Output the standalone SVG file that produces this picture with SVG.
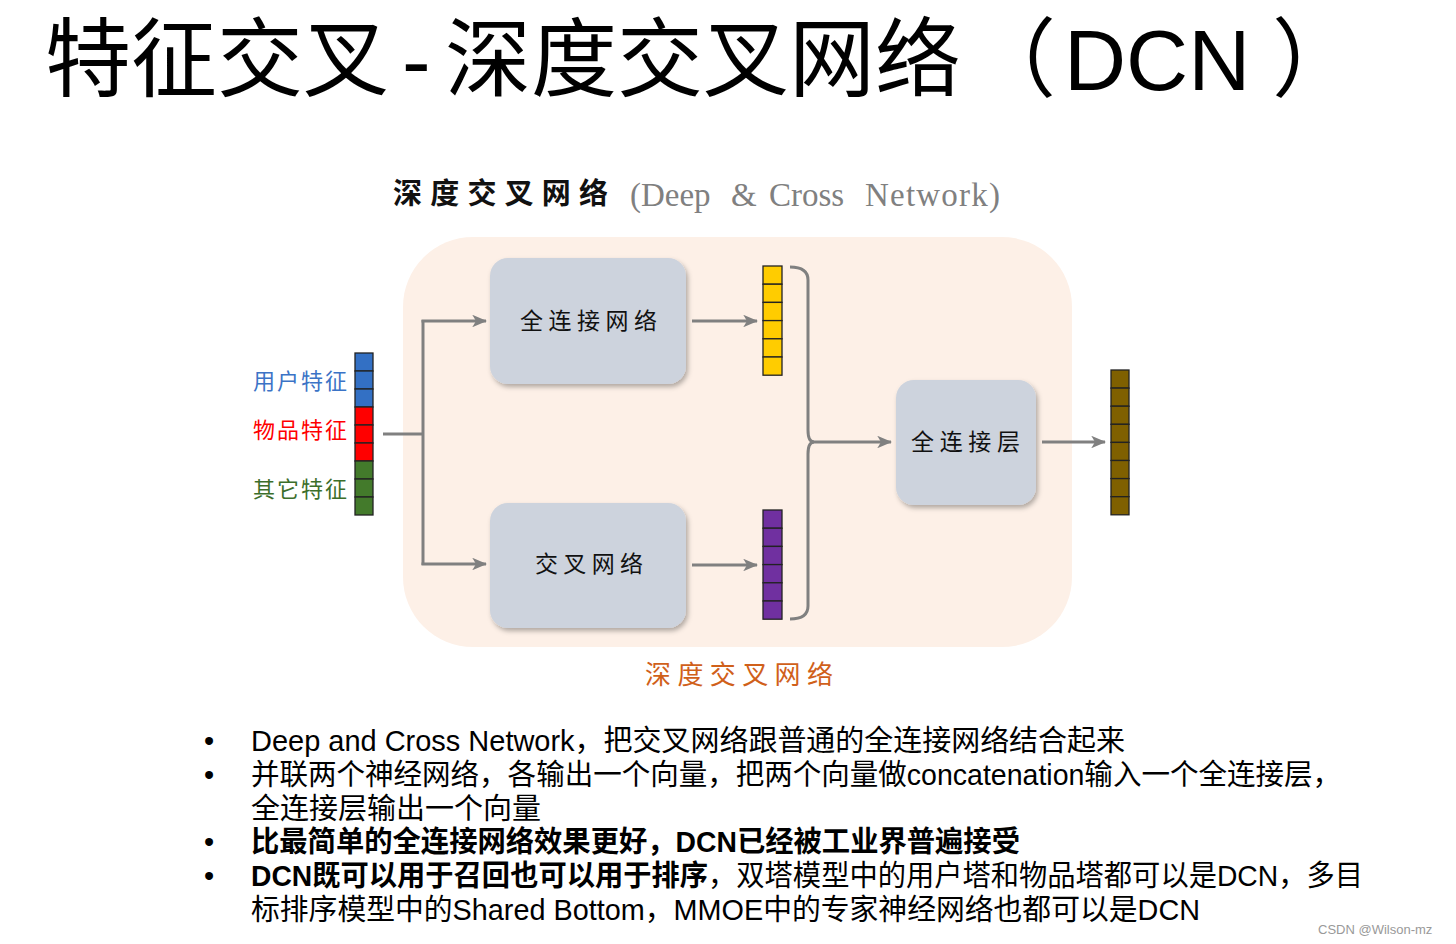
<svg xmlns="http://www.w3.org/2000/svg" width="1456" height="944" viewBox="0 0 1456 944">
<style>
.cjk{font-family:"Noto Sans CJK SC","Noto Sans",sans-serif}
.body{font-family:"Liberation Sans","Noto Sans CJK SC",sans-serif;font-size:29px;fill:#000}
.lbl{font-family:"Noto Sans CJK SC",sans-serif;font-size:23px;fill:#111}
.box{fill:#CDD3DD;filter:url(#sh)}
.ln{fill:none;stroke:#808080;stroke-width:3}
.cell{stroke:#222;stroke-width:1.3}
</style>
<defs>
<filter id="sh" x="-10%" y="-10%" width="125%" height="125%">
<feDropShadow dx="2" dy="3" stdDeviation="2.5" flood-color="#000" flood-opacity="0.3"/>
</filter>
<marker id="ah" viewBox="0 0 12 10" refX="11" refY="5" markerWidth="5" markerHeight="4.2" markerUnits="strokeWidth" orient="auto">
<path d="M0,0 L12,5 L0,10 L3,5 z" fill="#808080"/>
</marker>
</defs>
<rect width="1456" height="944" fill="#fff"/>
<text y="90" font-family="Liberation Sans,Noto Sans CJK SC,sans-serif" font-size="86" fill="#000"><tspan x="45">特征交叉</tspan><tspan x="402">-</tspan><tspan x="445">深度交叉网络</tspan><tspan x="970">（</tspan><tspan x="1064">DCN</tspan><tspan x="1272">）</tspan></text>
<g id="subtitle">
<text x="393" y="204" class="cjk" font-size="29" font-weight="bold" fill="#111" textLength="215" lengthAdjust="spacing">深度交叉网络</text>
<text y="206" font-family="Liberation Serif,serif" font-size="33" fill="#808080"><tspan x="630">(Deep</tspan><tspan x="731">&amp;</tspan><tspan x="769">Cross</tspan><tspan x="865" textLength="135" lengthAdjust="spacing">Network)</tspan></text>
</g>
<g id="panel">
<rect x="403" y="237" width="669" height="410" rx="70" fill="#FDF0E7"/>
</g>
<g id="input">
<text x="253" y="389" class="cjk" font-size="22" fill="#3B73C6" textLength="94" lengthAdjust="spacing">用户特征</text>
<text x="253" y="438" class="cjk" font-size="22" fill="#FF0000" textLength="94" lengthAdjust="spacing">物品特征</text>
<text x="253" y="497" class="cjk" font-size="22" fill="#3C6E2A" textLength="94" lengthAdjust="spacing">其它特征</text>
<g class="cell">
<rect x="355" y="353" width="18" height="18" fill="#3370C4"/>
<rect x="355" y="371" width="18" height="18" fill="#3370C4"/>
<rect x="355" y="389" width="18" height="18" fill="#3370C4"/>
<rect x="355" y="407" width="18" height="18" fill="#FF0000"/>
<rect x="355" y="425" width="18" height="18" fill="#FF0000"/>
<rect x="355" y="443" width="18" height="18" fill="#FF0000"/>
<rect x="355" y="461" width="18" height="18" fill="#437A2B"/>
<rect x="355" y="479" width="18" height="18" fill="#437A2B"/>
<rect x="355" y="497" width="18" height="18" fill="#437A2B"/>
</g>
</g>
<g id="deep">
<rect class="box" x="490" y="258" width="196" height="126" rx="18"/>
<text x="520" y="329" class="lbl" textLength="137" lengthAdjust="spacing">全连接网络</text>
</g>
<g id="cross">
<rect class="box" x="490" y="503" width="196" height="125" rx="18"/>
<text x="535" y="572" class="lbl" textLength="108" lengthAdjust="spacing">交叉网络</text>
</g>
<g id="fc">
<rect class="box" x="896" y="380" width="140" height="125" rx="18"/>
<text x="911" y="450" class="lbl" textLength="109" lengthAdjust="spacing">全连接层</text>
</g>
<g id="deepout" class="cell">
<rect x="763" y="266" width="19" height="18.2" fill="#FFCC00"/>
<rect x="763" y="284.2" width="19" height="18.2" fill="#FFCC00"/>
<rect x="763" y="302.4" width="19" height="18.2" fill="#FFCC00"/>
<rect x="763" y="320.6" width="19" height="18.2" fill="#FFCC00"/>
<rect x="763" y="338.8" width="19" height="18.2" fill="#FFCC00"/>
<rect x="763" y="357" width="19" height="18.2" fill="#FFCC00"/>
</g>
<g id="crossout" class="cell">
<rect x="763" y="510" width="19" height="18.2" fill="#7030A0"/>
<rect x="763" y="528.2" width="19" height="18.2" fill="#7030A0"/>
<rect x="763" y="546.4" width="19" height="18.2" fill="#7030A0"/>
<rect x="763" y="564.6" width="19" height="18.2" fill="#7030A0"/>
<rect x="763" y="582.8" width="19" height="18.2" fill="#7030A0"/>
<rect x="763" y="601" width="19" height="18.2" fill="#7030A0"/>
</g>
<g id="output" class="cell">
<rect x="1111" y="370" width="18" height="18.1" fill="#7F6000"/>
<rect x="1111" y="388.1" width="18" height="18.1" fill="#7F6000"/>
<rect x="1111" y="406.2" width="18" height="18.1" fill="#7F6000"/>
<rect x="1111" y="424.3" width="18" height="18.1" fill="#7F6000"/>
<rect x="1111" y="442.4" width="18" height="18.1" fill="#7F6000"/>
<rect x="1111" y="460.5" width="18" height="18.1" fill="#7F6000"/>
<rect x="1111" y="478.6" width="18" height="18.1" fill="#7F6000"/>
<rect x="1111" y="496.7" width="18" height="18.1" fill="#7F6000"/>
</g>
<g id="connectors">
<path class="ln" d="M383,434 L423,434"/>
<path class="ln" d="M423,320 L423,565"/>
<path class="ln" d="M421.5,321 L486,321" marker-end="url(#ah)"/>
<path class="ln" d="M421.5,564 L486,564" marker-end="url(#ah)"/>
<path class="ln" d="M692,321 L757,321" marker-end="url(#ah)"/>
<path class="ln" d="M692,565 L757,565" marker-end="url(#ah)"/>
<path class="ln" d="M790,267 Q808,267 808,280 L808,430 Q808,442 814,442 Q808,442 808,454 L808,606 Q808,619 790,619"/>
<path class="ln" d="M812,442 L891,442" marker-end="url(#ah)"/>
<path class="ln" d="M1042,442 L1105,442" marker-end="url(#ah)"/>
</g>
<text x="645" y="684" class="cjk" font-size="26" fill="#D0601A" textLength="188" lengthAdjust="spacing">深度交叉网络</text>
<g id="bullets">
<text x="204" y="751" class="body">•</text>
<text x="204" y="785" class="body">•</text>
<text x="204" y="852" class="body">•</text>
<text x="204" y="886" class="body">•</text>
<text x="251" y="751" class="body" textLength="874" lengthAdjust="spacingAndGlyphs">Deep and Cross Network，把交叉网络跟普通的全连接网络结合起来</text>
<text x="251" y="785" class="body" textLength="1090" lengthAdjust="spacingAndGlyphs">并联两个神经网络，各输出一个向量，把两个向量做concatenation输入一个全连接层，</text>
<text x="251" y="819" class="body">全连接层输出一个向量</text>
<text x="251" y="852" class="body" font-weight="bold" textLength="769" lengthAdjust="spacingAndGlyphs">比最简单的全连接网络效果更好，DCN已经被工业界普遍接受</text>
<text x="251" y="886" class="body" textLength="1112" lengthAdjust="spacingAndGlyphs"><tspan font-weight="bold">DCN既可以用于召回也可以用于排序</tspan>，双塔模型中的用户塔和物品塔都可以是DCN，多目</text>
<text x="251" y="920" class="body" textLength="949" lengthAdjust="spacingAndGlyphs">标排序模型中的Shared Bottom，MMOE中的专家神经网络也都可以是DCN</text>
</g>
<text x="1318" y="934" font-family="Liberation Sans,sans-serif" font-size="13" fill="#999">CSDN @Wilson-mz</text>
</svg>
